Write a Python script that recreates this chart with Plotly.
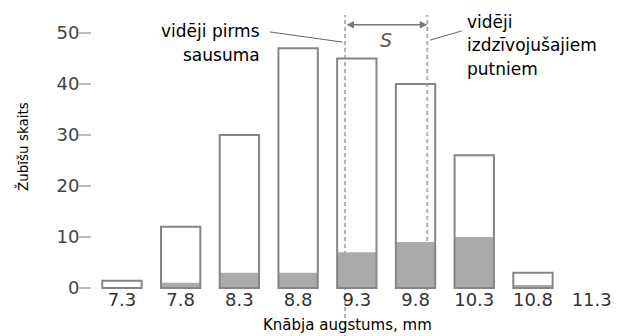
import plotly.graph_objects as go

# ---- data ----
beak_depth = [7.3, 7.8, 8.3, 8.8, 9.3, 9.8, 10.3, 10.8]
count_before = [1.4, 12, 30, 47, 45, 40, 26, 3]
count_survivors = [0, 1, 3, 3, 7, 9, 10, 0.6]
x_tick_values = [7.3, 7.8, 8.3, 8.8, 9.3, 9.8, 10.3, 10.8, 11.3]
x_tick_labels = ["7.3", "7.8", "8.3", "8.8", "9.3", "9.8", "10.3", "10.8", "11.3"]
y_tick_values = [0, 10, 20, 30, 40, 50]
mean_before = 9.2
mean_survivors = 9.9

FONT = "DejaVu Sans"
OUTLINE = "#858585"
FILL = "#aaaaaa"
BAR_W = 0.335

fig = go.Figure()

# survivors (grey, opaque) drawn first
fig.add_trace(go.Bar(
    x=beak_depth, y=count_survivors, width=BAR_W,
    marker=dict(color=FILL, line=dict(width=0)),
    hoverinfo="skip", showlegend=False,
))
# whole population outline (transparent fill)
fig.add_trace(go.Bar(
    x=beak_depth, y=count_before, width=BAR_W,
    marker=dict(color="rgba(0,0,0,0)", line=dict(color=OUTLINE, width=2)),
    hoverinfo="skip", showlegend=False,
))

# dashed mean lines (below the traces so grey fill hides them)
fig.add_shape(type="line", xref="x", yref="paper", x0=mean_before, x1=mean_before,
              y0=-0.2, y1=0.982, layer="below",
              line=dict(color="#b0b0b0", width=2, dash="4px,3px"))
fig.add_shape(type="line", xref="x", yref="paper", x0=mean_survivors, x1=mean_survivors,
              y0=0.0, y1=0.982, layer="below",
              line=dict(color="#b0b0b0", width=2, dash="4px,3px"))

# double arrow S
fig.add_annotation(x=mean_survivors, y=51.6, ax=mean_before, ay=51.6,
                   xref="x", yref="y", axref="x", ayref="y", text="",
                   showarrow=True, arrowhead=2, arrowside="end+start",
                   arrowsize=1, arrowwidth=1.5, arrowcolor="#777777")
fig.add_annotation(x=(mean_before + mean_survivors) / 2, y=48.6, xref="x", yref="y",
                   text="<i>S</i>", showarrow=False,
                   font=dict(family=FONT, size=19, color="#555555"))

# leader lines
fig.add_shape(type="line", xref="x", yref="y", x0=8.56, y0=50.2, x1=9.18, y1=48.2,
              line=dict(color="#666666", width=1))
fig.add_shape(type="line", xref="x", yref="y", x0=9.925, y0=48.6, x1=10.195, y1=50.4,
              line=dict(color="#666666", width=1))

TXT = dict(family=FONT, size=17, color="#000000")
for txt, yv in [("vidēji pirms", 50.4), ("sausuma", 45.6)]:
    fig.add_annotation(x=8.492, y=yv, xref="x", yref="y", text=txt, showarrow=False,
                       xanchor="right", yanchor="middle", font=TXT)
for txt, yv in [("vidēji", 52.2), ("izdzīvojušajiem", 47.6), ("putniem", 42.9)]:
    fig.add_annotation(x=10.221, y=yv, xref="x", yref="y", text=txt, showarrow=False,
                       xanchor="left", yanchor="middle", font=TXT)

# axis titles
fig.add_annotation(x=-0.1341, y=0.514, xref="paper", yref="paper", text="Žubīšu skaits",
                   textangle=-90, showarrow=False, xanchor="center", yanchor="middle",
                   font=dict(family=FONT, size=13.5, color="#000000"))
fig.add_annotation(x=0.49, y=-0.125, xref="paper", yref="paper", text="Knābja augstums, mm",
                   showarrow=False, xanchor="center", yanchor="middle",
                   font=dict(family=FONT, size=15, color="#000000"))

# page body has an 8px margin, so the figure is 8px smaller than the 619x336 window
fig.update_layout(
    width=611, height=328,
    margin=dict(l=84, r=5, t=2, b=46),
    paper_bgcolor="white", plot_bgcolor="white",
    barmode="overlay",
    font=dict(family=FONT),
    xaxis=dict(range=[7.045, 11.49], tickvals=x_tick_values, ticktext=x_tick_labels,
               showgrid=False, zeroline=False, showline=False, ticks="",
               ticklabelstandoff=-3,
               tickfont=dict(family=FONT, size=18, color="#333333")),
    yaxis=dict(range=[-0.4, 54.5], tickvals=y_tick_values,
               showgrid=False, zeroline=False, showline=False,
               ticks="outside", ticklen=12, tickwidth=2, tickcolor="#bbbbbb",
               ticklabelstandoff=-4,
               tickfont=dict(family=FONT, size=18, color="#444444")),
)

fig.write_html("out.html")
